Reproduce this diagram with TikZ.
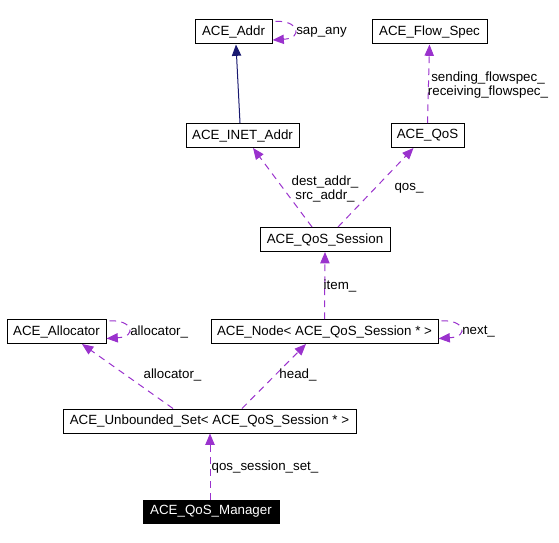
\documentclass[tikz,border=0pt]{standalone}
\usepackage{fontspec}
\setmainfont{Liberation Sans}
\usetikzlibrary{arrows.meta,calc}
\definecolor{depcol}{HTML}{9A32CD}
\definecolor{inhcol}{HTML}{191970}
\begin{document}
\begin{tikzpicture}[x=0.75pt,y=-0.75pt,
  box/.style={draw=black,line width=0.75pt,inner sep=0pt,minimum height=18pt,font=\fontsize{10}{12}\selectfont,text=black},
  mgr/.style={fill=black,draw=black,inner sep=0pt,minimum height=17pt,font=\fontsize{10}{12}\selectfont,text=white},
  lbl/.style={inner sep=0pt,font=\fontsize{10}{11}\selectfont,align=center},
  dep/.style={draw=depcol,line width=0.75pt,dash pattern=on 5pt off 4pt,arrows={-{Triangle[length=8.5pt,width=7pt,fill=depcol]}}},
  inh/.style={draw=inhcol,line width=0.75pt,arrows={-{Triangle[length=8.5pt,width=7pt,fill=inhcol]}}}
]
\useasboundingbox (0,0) rectangle (559,542);
\node[box,minimum width=77*0.75pt] (addr) at (233.5,32) {ACE\_Addr};
\node[box,minimum width=115*0.75pt] (flow) at (429.5,32) {ACE\_Flow\_Spec};
\node[box,minimum width=113*0.75pt] (inet) at (242.5,135.5) {ACE\_INET\_Addr};
\node[box,minimum width=73*0.75pt] (qos) at (427.5,135.5) {ACE\_QoS};
\node[box,minimum width=130*0.75pt] (sess) at (325,239.5) {ACE\_QoS\_Session};
\node[box,minimum width=99*0.75pt] (alloc) at (56.5,331.5) {ACE\_Allocator};
\node[box,minimum width=227*0.75pt] (anode) at (324.5,331.5) {ACE\_Node< ACE\_QoS\_Session * >};
\node[box,minimum width=293*0.75pt] (uset) at (209.5,421) {ACE\_Unbounded\_Set< ACE\_QoS\_Session * >};
\node[mgr,minimum width=136*0.75pt] (mgr) at (211,511.5) {ACE\_QoS\_Manager};

% inheritance
\draw[inh] ($(inet.north)+(-2.5,0)$) -- ($(addr.south)+(2.5,0)$);
% self loops
\draw[dep] ($(addr.north east)+(3,2)$) .. controls +(22,-2) and +(32,-2) .. ($(addr.east)+(0,8)$);
\node[lbl,anchor=west] (lsap) at (296,32) {sap\_any};
\draw[dep] ($(alloc.north east)+(3,2)$) .. controls +(22,-2) and +(32,-2) .. ($(alloc.east)+(0,7)$);
\node[lbl,anchor=west] (lal1) at (130,332) {allocator\_};
\draw[dep] ($(anode.north east)+(3,2)$) .. controls +(22,-2) and +(32,-2) .. ($(anode.east)+(0,7)$);
\node[lbl,anchor=west] (lnext) at (462,332) {next\_};
% usage
\draw[dep] (qos.north) -- (flow.south);
\node[lbl] (lflow) at (488,85) {sending\_flowspec\_\\receiving\_flowspec\_};
\draw[dep] ($(sess.north)+(-13,0)$) -- ($(inet.south)+(10.5,0)$);
\node[lbl] (ladr) at (325,189) {dest\_addr\_\\src\_addr\_};
\draw[dep] ($(sess.north)+(13,0)$) -- ($(qos.south)+(-14,0)$);
\node[lbl] (lqos) at (409,188) {qos\_};
\draw[dep] (anode.north) -- (sess.south);
\node[lbl] (litem) at (340,286) {item\_};
\draw[dep] ($(uset.north)+(-36.5,0)$) -- ($(alloc.south)+(25.5,0)$);
\node[lbl] (lal2) at (172.5,375) {allocator\_};
\draw[dep] ($(uset.north)+(32.5,0)$) -- ($(anode.south)+(-18.5,0)$);
\node[lbl] (lhead) at (298,375) {head\_};
\draw[dep] ($(mgr.north)+(-1,0)$) -- ($(uset.south)+(0.5,0)$);
\node[lbl] (lset) at (265,467) {qos\_session\_set\_};
\end{tikzpicture}
\end{document}
